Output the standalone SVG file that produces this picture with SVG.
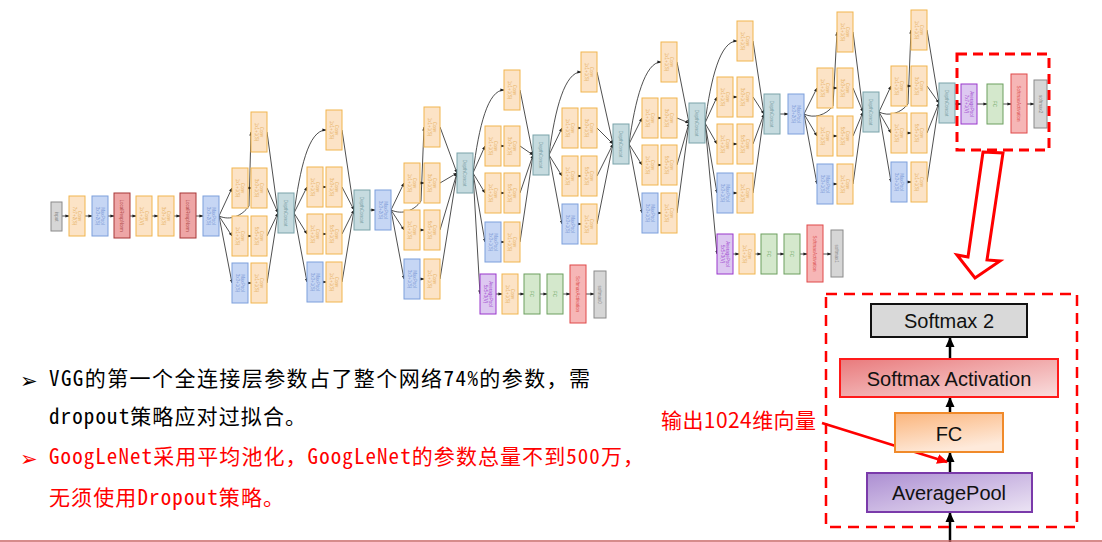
<svg xmlns="http://www.w3.org/2000/svg" width="1102" height="542" viewBox="0 0 1102 542">
<style>
.o{fill:#fce3c6;stroke:#f1b54e;stroke-width:1}
.b{fill:#c6d6f4;stroke:#7d9fdc;stroke-width:1}
.r{fill:#eea6a6;stroke:#a83636;stroke-width:1}
.t{fill:#c6dbdf;stroke:#7aa3aa;stroke-width:1}
.g{fill:#d6d6d6;stroke:#8a8a8a;stroke-width:1}
.p{fill:#ddc8f1;stroke:#9a36cc;stroke-width:1}
.gr{fill:#d4e8cc;stroke:#6c9f5f;stroke-width:1}
.s{fill:#f6b6b6;stroke:#e04848;stroke-width:1}
.tl{font-family:'Liberation Sans',Arial,sans-serif;font-size:4.5px;text-anchor:middle}
.to{fill:#e6ae5a}.tb{fill:#7896d6}.tr{fill:#b04848}.tt{fill:#7aa0a6}.tg{fill:#888}.tp{fill:#a048d0}.tgr{fill:#6aa460}.ts{fill:#dc5050}
.c{fill:none;stroke:#222;stroke-width:0.8;marker-end:url(#ah)}
.big{font-family:'Liberation Sans',Arial,sans-serif;font-size:20px;text-anchor:middle;fill:#111}
.bl{fill:none;stroke:#000;stroke-width:2.5;marker-end:url(#bh)}
.cn{font-family:'Noto Sans Mono CJK SC','Noto Sans CJK SC',sans-serif;font-size:21px}
.bu{font-family:'DejaVu Sans',sans-serif;font-size:21px}
</style>
<defs>
<marker id="ah" viewBox="0 0 10 10" refX="9" refY="5" markerWidth="4" markerHeight="4" markerUnits="userSpaceOnUse" orient="auto"><path d="M0,1 L10,5 L0,9z" fill="#222"/></marker>
<marker id="bh" viewBox="0 0 10 10" refX="9" refY="5" markerWidth="10" markerHeight="10" markerUnits="userSpaceOnUse" orient="auto"><path d="M0,0.5 L10,5 L0,9.5z" fill="#000"/></marker>
<marker id="rh" viewBox="0 0 10 10" refX="9" refY="5" markerWidth="11" markerHeight="11" markerUnits="userSpaceOnUse" orient="auto"><path d="M0,0.5 L10,5 L0,9.5z" fill="#ff0000"/></marker>
<linearGradient id="gsa" x1="0" y1="0" x2="1" y2="1"><stop offset="0" stop-color="#e97a7c"/><stop offset="1" stop-color="#f9dede"/></linearGradient>
<linearGradient id="gfc" x1="0" y1="0" x2="0.4" y2="1"><stop offset="0" stop-color="#fbb57c"/><stop offset="1" stop-color="#feeadb"/></linearGradient>
<linearGradient id="gap" x1="0" y1="0" x2="1" y2="1"><stop offset="0" stop-color="#ac8ed2"/><stop offset="1" stop-color="#ece4f4"/></linearGradient>
</defs>
<rect width="1102" height="542" fill="#fff"/>

<g id="connectors">
<path class="c" d="M62,216 L69,216"/><path class="c" d="M85,216 L92,216"/><path class="c" d="M108,216 L114,216"/><path class="c" d="M130,216 L136,216"/><path class="c" d="M152,216 L158,216"/><path class="c" d="M174,216 L180,216"/><path class="c" d="M196,216 L203,216"/>
<path class="c" d="M219,216 L232,188"/><path class="c" d="M219,216 L232,236"/><path class="c" d="M219,216 L232,283"/>
<path class="c" d="M219,216 C230,221 242,216 249,206 L251,132"/>
<path class="c" d="M248,188 L251,188"/><path class="c" d="M248,236 L251,236"/><path class="c" d="M248,283 L251,283"/>
<path class="c" d="M267,132 L278,213"/><path class="c" d="M267,188 L278,213"/><path class="c" d="M267,236 L278,213"/><path class="c" d="M267,283 L278,213"/>
<path class="c" d="M294,213 L307,187"/><path class="c" d="M294,213 L307,234"/><path class="c" d="M294,213 L307,282"/>
<path class="c" d="M294,213 C300,170 308,130 326,130"/>
<path class="c" d="M323,187 L326,187"/><path class="c" d="M323,234 L326,234"/><path class="c" d="M323,282 L326,282"/>
<path class="c" d="M342,130 L354,210"/><path class="c" d="M342,187 L354,210"/><path class="c" d="M342,234 L354,210"/><path class="c" d="M342,282 L354,210"/>
<path class="c" d="M370,210 L375,210"/>
<path class="c" d="M391,210 L404,183"/><path class="c" d="M391,210 L404,230"/><path class="c" d="M391,210 L404,279"/>
<path class="c" d="M391,210 C402,215 414,211 421,201 L424,127"/>
<path class="c" d="M420,183 L424,183"/><path class="c" d="M420,230 L424,230"/><path class="c" d="M420,279 L424,279"/>
<path class="c" d="M440,127 L457,173"/><path class="c" d="M440,183 L457,173"/><path class="c" d="M440,230 L457,173"/><path class="c" d="M440,279 L457,173"/>
<path class="c" d="M473,173 L480,294"/>
<path class="c" d="M496,294 L502,294"/><path class="c" d="M518,294 L524,294"/><path class="c" d="M540,294 L547,294"/><path class="c" d="M563,294 L570,294"/><path class="c" d="M586,294 L594,294"/>
<path class="c" d="M473,173 L485,146"/><path class="c" d="M473,173 L485,193"/><path class="c" d="M473,173 L485,242"/>
<path class="c" d="M473,173 C479,125 488,90 504,90"/>
<path class="c" d="M501,146 L504,146"/><path class="c" d="M501,193 L504,193"/><path class="c" d="M501,242 L504,242"/>
<path class="c" d="M520,90 L533,155"/><path class="c" d="M520,146 L533,155"/><path class="c" d="M520,193 L533,155"/><path class="c" d="M520,242 L533,155"/>
<path class="c" d="M549,155 L562,128"/><path class="c" d="M549,155 L562,176"/><path class="c" d="M549,155 L562,224"/>
<path class="c" d="M549,155 C555,108 565,72 581,72"/>
<path class="c" d="M578,128 L581,128"/><path class="c" d="M578,176 L581,176"/><path class="c" d="M578,224 L581,224"/>
<path class="c" d="M597,72 L613,144"/><path class="c" d="M597,128 L613,144"/><path class="c" d="M597,176 L613,144"/><path class="c" d="M597,224 L613,144"/>
<path class="c" d="M629,144 L642,118"/><path class="c" d="M629,144 L642,165"/><path class="c" d="M629,144 L642,213"/>
<path class="c" d="M629,144 C635,100 645,62 661,62"/>
<path class="c" d="M658,118 L661,118"/><path class="c" d="M658,165 L661,165"/><path class="c" d="M658,213 L661,213"/>
<path class="c" d="M677,62 L689,123"/><path class="c" d="M677,118 L689,123"/><path class="c" d="M677,165 L689,123"/><path class="c" d="M677,213 L689,123"/>
<path class="c" d="M705,123 L717,254"/>
<path class="c" d="M733,254 L739,254"/><path class="c" d="M755,254 L761,254"/><path class="c" d="M777,254 L784,254"/><path class="c" d="M800,254 L807,254"/><path class="c" d="M823,254 L831,254"/>
<path class="c" d="M705,123 L717,97"/><path class="c" d="M705,123 L717,144"/><path class="c" d="M705,123 L717,193"/>
<path class="c" d="M705,123 C711,78 720,41 737,41"/>
<path class="c" d="M733,97 L737,97"/><path class="c" d="M733,144 L737,144"/><path class="c" d="M733,193 L737,193"/>
<path class="c" d="M753,41 L764,114"/><path class="c" d="M753,97 L764,114"/><path class="c" d="M753,144 L764,114"/><path class="c" d="M753,193 L764,114"/>
<path class="c" d="M780,114 L788,114"/>
<path class="c" d="M804,114 L817,88"/><path class="c" d="M804,114 L817,136"/><path class="c" d="M804,114 L817,184"/>
<path class="c" d="M804,114 C814,119 826,115 833,106 L837,32"/>
<path class="c" d="M833,88 L837,88"/><path class="c" d="M833,136 L837,136"/><path class="c" d="M833,184 L837,184"/>
<path class="c" d="M853,32 L863,112"/><path class="c" d="M853,88 L863,112"/><path class="c" d="M853,136 L863,112"/><path class="c" d="M853,184 L863,112"/>
<path class="c" d="M879,112 L891,86"/><path class="c" d="M879,112 L891,133"/><path class="c" d="M879,112 L891,182"/>
<path class="c" d="M879,112 C889,117 901,113 908,104 L911,30"/>
<path class="c" d="M907,86 L911,86"/><path class="c" d="M907,133 L911,133"/><path class="c" d="M907,182 L911,182"/>
<path class="c" d="M927,30 L939,103"/><path class="c" d="M927,86 L939,103"/><path class="c" d="M927,133 L939,103"/><path class="c" d="M927,182 L939,103"/>
<path class="c" d="M955,104 L961,104"/><path class="c" d="M977,104 L987,104"/><path class="c" d="M1003,104 L1011,104"/><path class="c" d="M1027,104 L1034,104"/>
<path class="bl" d="M950,359 L950,338"/>
<path class="bl" d="M950,413 L950,398"/>
<path class="bl" d="M950,473 L950,453"/>
<path class="bl" d="M950,542 L950,513"/>
<path d="M822,423 L947,462" fill="none" stroke="#ff0000" stroke-width="2.5" marker-end="url(#rh)"/>
</g>

<g id="n-input"><rect class="g" x="51" y="202" width="11" height="29"/><text class="tl tg" transform="translate(56.5,216.5) rotate(90)" y="1.6">input</text></g>
<g id="n-conv1"><rect class="o" x="69" y="196" width="16" height="40"/><text class="tl to" transform="translate(77,216) rotate(90)"><tspan x="0" y="-0.6">Conv</tspan><tspan x="0" y="4.4">7x7+2(S)</tspan></text></g>
<g id="n-pool1"><rect class="b" x="92" y="196" width="16" height="40"/><text class="tl tb" transform="translate(100,216) rotate(90)"><tspan x="0" y="-0.6">MaxPool</tspan><tspan x="0" y="4.4">3x3+2(S)</tspan></text></g>
<g id="n-lrn1"><rect class="r" x="114" y="193" width="16" height="45"/><text class="tl tr" transform="translate(122,215.5) rotate(90)" y="1.6">LocalRespNorm</text></g>
<g id="n-conv2"><rect class="o" x="136" y="196" width="16" height="40"/><text class="tl to" transform="translate(144,216) rotate(90)"><tspan x="0" y="-0.6">Conv</tspan><tspan x="0" y="4.4">1x1+1(V)</tspan></text></g>
<g id="n-conv3"><rect class="o" x="158" y="196" width="16" height="40"/><text class="tl to" transform="translate(166,216) rotate(90)"><tspan x="0" y="-0.6">Conv</tspan><tspan x="0" y="4.4">3x3+1(S)</tspan></text></g>
<g id="n-lrn2"><rect class="r" x="180" y="193" width="16" height="45"/><text class="tl tr" transform="translate(188,215.5) rotate(90)" y="1.6">LocalRespNorm</text></g>
<g id="n-pool2"><rect class="b" x="203" y="196" width="16" height="40"/><text class="tl tb" transform="translate(211,216) rotate(90)"><tspan x="0" y="-0.6">MaxPool</tspan><tspan x="0" y="4.4">3x3+2(S)</tspan></text></g>

<g id="inc3a">
<rect class="o" x="251" y="112" width="16" height="40"/><text class="tl to" transform="translate(259,132) rotate(90)"><tspan x="0" y="-0.6">Conv</tspan><tspan x="0" y="4.4">1x1+1(S)</tspan></text>
<rect class="o" x="232" y="168" width="16" height="40"/><text class="tl to" transform="translate(240,188) rotate(90)"><tspan x="0" y="-0.6">Conv</tspan><tspan x="0" y="4.4">1x1+1(S)</tspan></text>
<rect class="o" x="251" y="168" width="16" height="40"/><text class="tl to" transform="translate(259,188) rotate(90)"><tspan x="0" y="-0.6">Conv</tspan><tspan x="0" y="4.4">3x3+1(S)</tspan></text>
<rect class="o" x="232" y="216" width="16" height="40"/><text class="tl to" transform="translate(240,236) rotate(90)"><tspan x="0" y="-0.6">Conv</tspan><tspan x="0" y="4.4">1x1+1(S)</tspan></text>
<rect class="o" x="251" y="216" width="16" height="40"/><text class="tl to" transform="translate(259,236) rotate(90)"><tspan x="0" y="-0.6">Conv</tspan><tspan x="0" y="4.4">5x5+1(S)</tspan></text>
<rect class="b" x="232" y="263" width="16" height="40"/><text class="tl tb" transform="translate(240,283) rotate(90)"><tspan x="0" y="-0.6">MaxPool</tspan><tspan x="0" y="4.4">3x3+1(S)</tspan></text>
<rect class="o" x="251" y="263" width="16" height="40"/><text class="tl to" transform="translate(259,283) rotate(90)"><tspan x="0" y="-0.6">Conv</tspan><tspan x="0" y="4.4">1x1+1(S)</tspan></text>
</g>
<g id="cat3a"><rect class="t" x="278" y="193" width="16" height="40"/><text class="tl tt" transform="translate(286,213) rotate(90)" y="1.6">DepthConcat</text></g>

<g id="inc3b">
<rect class="o" x="326" y="110" width="16" height="40"/><text class="tl to" transform="translate(334,130) rotate(90)"><tspan x="0" y="-0.6">Conv</tspan><tspan x="0" y="4.4">1x1+1(S)</tspan></text>
<rect class="o" x="307" y="167" width="16" height="40"/><text class="tl to" transform="translate(315,187) rotate(90)"><tspan x="0" y="-0.6">Conv</tspan><tspan x="0" y="4.4">1x1+1(S)</tspan></text>
<rect class="o" x="326" y="167" width="16" height="40"/><text class="tl to" transform="translate(334,187) rotate(90)"><tspan x="0" y="-0.6">Conv</tspan><tspan x="0" y="4.4">3x3+1(S)</tspan></text>
<rect class="o" x="307" y="214" width="16" height="40"/><text class="tl to" transform="translate(315,234) rotate(90)"><tspan x="0" y="-0.6">Conv</tspan><tspan x="0" y="4.4">1x1+1(S)</tspan></text>
<rect class="o" x="326" y="214" width="16" height="40"/><text class="tl to" transform="translate(334,234) rotate(90)"><tspan x="0" y="-0.6">Conv</tspan><tspan x="0" y="4.4">5x5+1(S)</tspan></text>
<rect class="b" x="307" y="262" width="16" height="40"/><text class="tl tb" transform="translate(315,282) rotate(90)"><tspan x="0" y="-0.6">MaxPool</tspan><tspan x="0" y="4.4">3x3+1(S)</tspan></text>
<rect class="o" x="326" y="262" width="16" height="40"/><text class="tl to" transform="translate(334,282) rotate(90)"><tspan x="0" y="-0.6">Conv</tspan><tspan x="0" y="4.4">1x1+1(S)</tspan></text>
</g>
<g id="cat3b"><rect class="t" x="354" y="190" width="16" height="40"/><text class="tl tt" transform="translate(362,210) rotate(90)" y="1.6">DepthConcat</text></g>
<g id="n-pool3"><rect class="b" x="375" y="190" width="16" height="40"/><text class="tl tb" transform="translate(383,210) rotate(90)"><tspan x="0" y="-0.6">MaxPool</tspan><tspan x="0" y="4.4">3x3+2(S)</tspan></text></g>

<g id="inc4a">
<rect class="o" x="424" y="107" width="16" height="40"/><text class="tl to" transform="translate(432,127) rotate(90)"><tspan x="0" y="-0.6">Conv</tspan><tspan x="0" y="4.4">1x1+1(S)</tspan></text>
<rect class="o" x="404" y="163" width="16" height="40"/><text class="tl to" transform="translate(412,183) rotate(90)"><tspan x="0" y="-0.6">Conv</tspan><tspan x="0" y="4.4">1x1+1(S)</tspan></text>
<rect class="o" x="424" y="163" width="16" height="40"/><text class="tl to" transform="translate(432,183) rotate(90)"><tspan x="0" y="-0.6">Conv</tspan><tspan x="0" y="4.4">3x3+1(S)</tspan></text>
<rect class="o" x="404" y="210" width="16" height="40"/><text class="tl to" transform="translate(412,230) rotate(90)"><tspan x="0" y="-0.6">Conv</tspan><tspan x="0" y="4.4">1x1+1(S)</tspan></text>
<rect class="o" x="424" y="210" width="16" height="40"/><text class="tl to" transform="translate(432,230) rotate(90)"><tspan x="0" y="-0.6">Conv</tspan><tspan x="0" y="4.4">5x5+1(S)</tspan></text>
<rect class="b" x="404" y="259" width="16" height="40"/><text class="tl tb" transform="translate(412,279) rotate(90)"><tspan x="0" y="-0.6">MaxPool</tspan><tspan x="0" y="4.4">3x3+1(S)</tspan></text>
<rect class="o" x="424" y="259" width="16" height="40"/><text class="tl to" transform="translate(432,279) rotate(90)"><tspan x="0" y="-0.6">Conv</tspan><tspan x="0" y="4.4">1x1+1(S)</tspan></text>
</g>
<g id="cat4a"><rect class="t" x="457" y="153" width="16" height="40"/><text class="tl tt" transform="translate(465,173) rotate(90)" y="1.6">DepthConcat</text></g>

<g id="aux1">
<rect class="p" x="480" y="274" width="16" height="40"/><text class="tl tp" transform="translate(488,294) rotate(90)"><tspan x="0" y="-0.6">AveragePool</tspan><tspan x="0" y="4.4">5x5+3(V)</tspan></text>
<rect class="o" x="502" y="274" width="16" height="40"/><text class="tl to" transform="translate(510,294) rotate(90)"><tspan x="0" y="-0.6">Conv</tspan><tspan x="0" y="4.4">1x1+1(S)</tspan></text>
<rect class="gr" x="524" y="274" width="16" height="40"/><text class="tl tgr" transform="translate(532,294) rotate(90)" y="1.6">FC</text>
<rect class="gr" x="547" y="274" width="16" height="40"/><text class="tl tgr" transform="translate(555,294) rotate(90)" y="1.6">FC</text>
<rect class="s" x="570" y="265" width="16" height="58"/><text class="tl ts" transform="translate(578,294) rotate(90)" y="1.6">SoftmaxActivation</text>
<rect class="g" x="594" y="271" width="12" height="47"/><text class="tl tg" transform="translate(600,294.5) rotate(90)" y="1.6">softmax0</text>
</g>

<g id="inc4b">
<rect class="o" x="504" y="70" width="16" height="40"/><text class="tl to" transform="translate(512,90) rotate(90)"><tspan x="0" y="-0.6">Conv</tspan><tspan x="0" y="4.4">1x1+1(S)</tspan></text>
<rect class="o" x="485" y="126" width="16" height="40"/><text class="tl to" transform="translate(493,146) rotate(90)"><tspan x="0" y="-0.6">Conv</tspan><tspan x="0" y="4.4">1x1+1(S)</tspan></text>
<rect class="o" x="504" y="126" width="16" height="40"/><text class="tl to" transform="translate(512,146) rotate(90)"><tspan x="0" y="-0.6">Conv</tspan><tspan x="0" y="4.4">3x3+1(S)</tspan></text>
<rect class="o" x="485" y="173" width="16" height="40"/><text class="tl to" transform="translate(493,193) rotate(90)"><tspan x="0" y="-0.6">Conv</tspan><tspan x="0" y="4.4">1x1+1(S)</tspan></text>
<rect class="o" x="504" y="173" width="16" height="40"/><text class="tl to" transform="translate(512,193) rotate(90)"><tspan x="0" y="-0.6">Conv</tspan><tspan x="0" y="4.4">5x5+1(S)</tspan></text>
<rect class="b" x="485" y="222" width="16" height="40"/><text class="tl tb" transform="translate(493,242) rotate(90)"><tspan x="0" y="-0.6">MaxPool</tspan><tspan x="0" y="4.4">3x3+1(S)</tspan></text>
<rect class="o" x="504" y="222" width="16" height="40"/><text class="tl to" transform="translate(512,242) rotate(90)"><tspan x="0" y="-0.6">Conv</tspan><tspan x="0" y="4.4">1x1+1(S)</tspan></text>
</g>
<g id="cat4b"><rect class="t" x="533" y="135" width="16" height="40"/><text class="tl tt" transform="translate(541,155) rotate(90)" y="1.6">DepthConcat</text></g>

<g id="inc4c">
<rect class="o" x="581" y="52" width="16" height="40"/><text class="tl to" transform="translate(589,72) rotate(90)"><tspan x="0" y="-0.6">Conv</tspan><tspan x="0" y="4.4">1x1+1(S)</tspan></text>
<rect class="o" x="562" y="108" width="16" height="40"/><text class="tl to" transform="translate(570,128) rotate(90)"><tspan x="0" y="-0.6">Conv</tspan><tspan x="0" y="4.4">1x1+1(S)</tspan></text>
<rect class="o" x="581" y="108" width="16" height="40"/><text class="tl to" transform="translate(589,128) rotate(90)"><tspan x="0" y="-0.6">Conv</tspan><tspan x="0" y="4.4">3x3+1(S)</tspan></text>
<rect class="o" x="562" y="156" width="16" height="40"/><text class="tl to" transform="translate(570,176) rotate(90)"><tspan x="0" y="-0.6">Conv</tspan><tspan x="0" y="4.4">1x1+1(S)</tspan></text>
<rect class="o" x="581" y="156" width="16" height="40"/><text class="tl to" transform="translate(589,176) rotate(90)"><tspan x="0" y="-0.6">Conv</tspan><tspan x="0" y="4.4">5x5+1(S)</tspan></text>
<rect class="b" x="562" y="204" width="16" height="40"/><text class="tl tb" transform="translate(570,224) rotate(90)"><tspan x="0" y="-0.6">MaxPool</tspan><tspan x="0" y="4.4">3x3+1(S)</tspan></text>
<rect class="o" x="581" y="204" width="16" height="40"/><text class="tl to" transform="translate(589,224) rotate(90)"><tspan x="0" y="-0.6">Conv</tspan><tspan x="0" y="4.4">1x1+1(S)</tspan></text>
</g>
<g id="cat4c"><rect class="t" x="613" y="124" width="16" height="40"/><text class="tl tt" transform="translate(621,144) rotate(90)" y="1.6">DepthConcat</text></g>

<g id="inc4d">
<rect class="o" x="661" y="42" width="16" height="40"/><text class="tl to" transform="translate(669,62) rotate(90)"><tspan x="0" y="-0.6">Conv</tspan><tspan x="0" y="4.4">1x1+1(S)</tspan></text>
<rect class="o" x="642" y="98" width="16" height="40"/><text class="tl to" transform="translate(650,118) rotate(90)"><tspan x="0" y="-0.6">Conv</tspan><tspan x="0" y="4.4">1x1+1(S)</tspan></text>
<rect class="o" x="661" y="98" width="16" height="40"/><text class="tl to" transform="translate(669,118) rotate(90)"><tspan x="0" y="-0.6">Conv</tspan><tspan x="0" y="4.4">3x3+1(S)</tspan></text>
<rect class="o" x="642" y="145" width="16" height="40"/><text class="tl to" transform="translate(650,165) rotate(90)"><tspan x="0" y="-0.6">Conv</tspan><tspan x="0" y="4.4">1x1+1(S)</tspan></text>
<rect class="o" x="661" y="145" width="16" height="40"/><text class="tl to" transform="translate(669,165) rotate(90)"><tspan x="0" y="-0.6">Conv</tspan><tspan x="0" y="4.4">5x5+1(S)</tspan></text>
<rect class="b" x="642" y="193" width="16" height="40"/><text class="tl tb" transform="translate(650,213) rotate(90)"><tspan x="0" y="-0.6">MaxPool</tspan><tspan x="0" y="4.4">3x3+1(S)</tspan></text>
<rect class="o" x="661" y="193" width="16" height="40"/><text class="tl to" transform="translate(669,213) rotate(90)"><tspan x="0" y="-0.6">Conv</tspan><tspan x="0" y="4.4">1x1+1(S)</tspan></text>
</g>
<g id="cat4d"><rect class="t" x="689" y="103" width="16" height="40"/><text class="tl tt" transform="translate(697,123) rotate(90)" y="1.6">DepthConcat</text></g>

<g id="aux2">
<rect class="p" x="717" y="234" width="16" height="40"/><text class="tl tp" transform="translate(725,254) rotate(90)"><tspan x="0" y="-0.6">AveragePool</tspan><tspan x="0" y="4.4">5x5+3(V)</tspan></text>
<rect class="o" x="739" y="234" width="16" height="40"/><text class="tl to" transform="translate(747,254) rotate(90)"><tspan x="0" y="-0.6">Conv</tspan><tspan x="0" y="4.4">1x1+1(S)</tspan></text>
<rect class="gr" x="761" y="234" width="16" height="40"/><text class="tl tgr" transform="translate(769,254) rotate(90)" y="1.6">FC</text>
<rect class="gr" x="784" y="234" width="16" height="40"/><text class="tl tgr" transform="translate(792,254) rotate(90)" y="1.6">FC</text>
<rect class="s" x="807" y="225" width="16" height="57"/><text class="tl ts" transform="translate(815,253.5) rotate(90)" y="1.6">SoftmaxActivation</text>
<rect class="g" x="831" y="230" width="12" height="47"/><text class="tl tg" transform="translate(837,253.5) rotate(90)" y="1.6">softmax1</text>
</g>

<g id="inc4e">
<rect class="o" x="737" y="21" width="16" height="40"/><text class="tl to" transform="translate(745,41) rotate(90)"><tspan x="0" y="-0.6">Conv</tspan><tspan x="0" y="4.4">1x1+1(S)</tspan></text>
<rect class="o" x="717" y="77" width="16" height="40"/><text class="tl to" transform="translate(725,97) rotate(90)"><tspan x="0" y="-0.6">Conv</tspan><tspan x="0" y="4.4">1x1+1(S)</tspan></text>
<rect class="o" x="737" y="77" width="16" height="40"/><text class="tl to" transform="translate(745,97) rotate(90)"><tspan x="0" y="-0.6">Conv</tspan><tspan x="0" y="4.4">3x3+1(S)</tspan></text>
<rect class="o" x="717" y="124" width="16" height="40"/><text class="tl to" transform="translate(725,144) rotate(90)"><tspan x="0" y="-0.6">Conv</tspan><tspan x="0" y="4.4">1x1+1(S)</tspan></text>
<rect class="o" x="737" y="124" width="16" height="40"/><text class="tl to" transform="translate(745,144) rotate(90)"><tspan x="0" y="-0.6">Conv</tspan><tspan x="0" y="4.4">5x5+1(S)</tspan></text>
<rect class="b" x="717" y="173" width="16" height="40"/><text class="tl tb" transform="translate(725,193) rotate(90)"><tspan x="0" y="-0.6">MaxPool</tspan><tspan x="0" y="4.4">3x3+1(S)</tspan></text>
<rect class="o" x="737" y="173" width="16" height="40"/><text class="tl to" transform="translate(745,193) rotate(90)"><tspan x="0" y="-0.6">Conv</tspan><tspan x="0" y="4.4">1x1+1(S)</tspan></text>
</g>
<g id="cat4e"><rect class="t" x="764" y="94" width="16" height="40"/><text class="tl tt" transform="translate(772,114) rotate(90)" y="1.6">DepthConcat</text></g>
<g id="n-pool4"><rect class="b" x="788" y="94" width="16" height="40"/><text class="tl tb" transform="translate(796,114) rotate(90)"><tspan x="0" y="-0.6">MaxPool</tspan><tspan x="0" y="4.4">3x3+2(S)</tspan></text></g>

<g id="inc5a">
<rect class="o" x="837" y="12" width="16" height="40"/><text class="tl to" transform="translate(845,32) rotate(90)"><tspan x="0" y="-0.6">Conv</tspan><tspan x="0" y="4.4">1x1+1(S)</tspan></text>
<rect class="o" x="817" y="68" width="16" height="40"/><text class="tl to" transform="translate(825,88) rotate(90)"><tspan x="0" y="-0.6">Conv</tspan><tspan x="0" y="4.4">1x1+1(S)</tspan></text>
<rect class="o" x="837" y="68" width="16" height="40"/><text class="tl to" transform="translate(845,88) rotate(90)"><tspan x="0" y="-0.6">Conv</tspan><tspan x="0" y="4.4">3x3+1(S)</tspan></text>
<rect class="o" x="817" y="116" width="16" height="40"/><text class="tl to" transform="translate(825,136) rotate(90)"><tspan x="0" y="-0.6">Conv</tspan><tspan x="0" y="4.4">1x1+1(S)</tspan></text>
<rect class="o" x="837" y="116" width="16" height="40"/><text class="tl to" transform="translate(845,136) rotate(90)"><tspan x="0" y="-0.6">Conv</tspan><tspan x="0" y="4.4">5x5+1(S)</tspan></text>
<rect class="b" x="817" y="164" width="16" height="40"/><text class="tl tb" transform="translate(825,184) rotate(90)"><tspan x="0" y="-0.6">MaxPool</tspan><tspan x="0" y="4.4">3x3+1(S)</tspan></text>
<rect class="o" x="837" y="164" width="16" height="40"/><text class="tl to" transform="translate(845,184) rotate(90)"><tspan x="0" y="-0.6">Conv</tspan><tspan x="0" y="4.4">1x1+1(S)</tspan></text>
</g>
<g id="cat5a"><rect class="t" x="863" y="92" width="16" height="40"/><text class="tl tt" transform="translate(871,112) rotate(90)" y="1.6">DepthConcat</text></g>

<g id="inc5b">
<rect class="o" x="911" y="10" width="16" height="40"/><text class="tl to" transform="translate(919,30) rotate(90)"><tspan x="0" y="-0.6">Conv</tspan><tspan x="0" y="4.4">1x1+1(S)</tspan></text>
<rect class="o" x="891" y="66" width="16" height="40"/><text class="tl to" transform="translate(899,86) rotate(90)"><tspan x="0" y="-0.6">Conv</tspan><tspan x="0" y="4.4">1x1+1(S)</tspan></text>
<rect class="o" x="911" y="66" width="16" height="40"/><text class="tl to" transform="translate(919,86) rotate(90)"><tspan x="0" y="-0.6">Conv</tspan><tspan x="0" y="4.4">3x3+1(S)</tspan></text>
<rect class="o" x="891" y="113" width="16" height="40"/><text class="tl to" transform="translate(899,133) rotate(90)"><tspan x="0" y="-0.6">Conv</tspan><tspan x="0" y="4.4">1x1+1(S)</tspan></text>
<rect class="o" x="911" y="113" width="16" height="40"/><text class="tl to" transform="translate(919,133) rotate(90)"><tspan x="0" y="-0.6">Conv</tspan><tspan x="0" y="4.4">5x5+1(S)</tspan></text>
<rect class="b" x="891" y="162" width="16" height="40"/><text class="tl tb" transform="translate(899,182) rotate(90)"><tspan x="0" y="-0.6">MaxPool</tspan><tspan x="0" y="4.4">3x3+1(S)</tspan></text>
<rect class="o" x="911" y="162" width="16" height="40"/><text class="tl to" transform="translate(919,182) rotate(90)"><tspan x="0" y="-0.6">Conv</tspan><tspan x="0" y="4.4">1x1+1(S)</tspan></text>
</g>
<g id="cat5b"><rect class="t" x="939" y="83" width="16" height="40"/><text class="tl tt" transform="translate(947,103) rotate(90)" y="1.6">DepthConcat</text></g>

<g id="head">
<rect class="p" x="961" y="84" width="16" height="40"/><text class="tl tp" transform="translate(969,104) rotate(90)"><tspan x="0" y="-0.6">AveragePool</tspan><tspan x="0" y="4.4">7x7+1(V)</tspan></text>
<rect class="gr" x="987" y="84" width="16" height="40"/><text class="tl tgr" transform="translate(995,104) rotate(90)" y="1.6">FC</text>
<rect class="s" x="1011" y="74" width="16" height="59"/><text class="tl ts" transform="translate(1019,103.5) rotate(90)" y="1.6">SoftmaxActivation</text>
<rect class="g" x="1034" y="80" width="13" height="48"/><text class="tl tg" transform="translate(1040.5,104) rotate(90)" y="1.6">softmax2</text>
</g>

<rect x="957" y="54" width="92" height="96" fill="none" stroke="#ff0000" stroke-width="3" stroke-dasharray="10,6"/>
<polygon points="983,152 1003,153 987,260 1000,261 975,278 957,255 968,257" fill="#fff" stroke="#ff0000" stroke-width="3" stroke-linejoin="miter"/>

<rect x="826" y="294" width="251" height="233" fill="none" stroke="#ff0000" stroke-width="2.5" stroke-dasharray="11,7"/>
<g id="p-softmax2"><rect x="871" y="304" width="156" height="33" fill="#d9d9d9" stroke="#111" stroke-width="2"/><text class="big" x="949" y="328">Softmax 2</text></g>
<g id="p-sact"><rect x="840" y="359" width="218" height="38" fill="url(#gsa)" stroke="#ff1a1a" stroke-width="2"/><text class="big" x="949" y="386">Softmax Activation</text></g>
<g id="p-fc"><rect x="895" y="413" width="108" height="39" fill="url(#gfc)" stroke="#f08a2a" stroke-width="2"/><text class="big" x="949" y="441">FC</text></g>
<g id="p-avg"><rect x="867" y="473" width="165" height="39" fill="url(#gap)" stroke="#7a3aaa" stroke-width="2"/><text class="big" x="949" y="500">AveragePool</text></g>
<text x="661" y="428" font-family="'Noto Sans CJK SC',sans-serif" font-size="21" fill="#ff0000" textLength="155">输出1024维向量</text>

<text class="bu" x="20" y="388" fill="#000">➢</text>
<text class="cn" x="49" y="386" fill="#000" textLength="541">VGG的第一个全连接层参数占了整个网络74%的参数，需</text>
<text class="cn" x="49" y="424" fill="#000" textLength="257">dropout策略应对过拟合。</text>
<text class="bu" x="20" y="466" fill="#ff0000">➢</text>
<text class="cn" x="49" y="464" fill="#ff0000" textLength="595">GoogLeNet采用平均池化，GoogLeNet的参数总量不到500万，</text>
<text class="cn" x="49" y="505" fill="#ff0000" textLength="235">无须使用Dropout策略。</text>

<line x1="0" y1="541" x2="1102" y2="541" stroke="#c86464" stroke-width="1.5"/>
</svg>
